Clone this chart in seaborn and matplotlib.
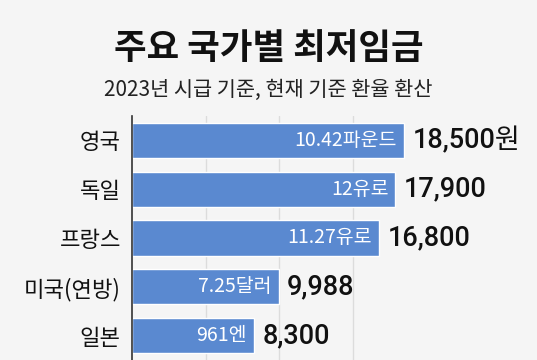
import pandas as pd
import matplotlib.pyplot as plt
import seaborn as sns

# 2023 hourly minimum wage, converted to KRW
countries = ['영국', '독일', '프랑스', '미국(연방)', '일본']
wage_krw = [18500, 17900, 16800, 9988, 8300]
local_labels = ['10.42파운드', '12유로', '11.27유로', '7.25달러', '961엔']
krw_labels = ['18,500원', '17,900', '16,800', '9,988', '8,300']

df = pd.DataFrame({'country': countries, 'krw': wage_krw})

sns.set_theme(style='white')
plt.rcParams['font.family'] = ['Noto Sans CJK KR', 'DejaVu Sans']

bg = '#f5f5f5'
bar_color = '#5a89d0'

fig = plt.figure(figsize=(5.37, 3.6), dpi=100, facecolor=bg)
ax = fig.add_axes([0.2458, 0.0, 0.534, 0.678])
ax.set_facecolor(bg)

sns.barplot(data=df, x='krw', y='country', color=bar_color, width=0.72,
            saturation=1, ax=ax, zorder=2)

ax.set_xlim(0, 19500)
ax.set_ylim(4.5, -0.5)
ax.set_xticks([5000, 10000, 15000])
ax.xaxis.grid(True, color='#dcdcdc', linewidth=1, zorder=0)
ax.tick_params(axis='x', length=0, labelbottom=False)
ax.tick_params(axis='y', length=0, labelsize=16, pad=8, colors='#111111')
ax.set_xlabel('')
ax.set_ylabel('')
for s in ['top', 'right', 'bottom']:
    ax.spines[s].set_visible(False)
ax.spines['left'].set_color('#333333')
ax.spines['left'].set_linewidth(1.2)
ax.spines['left'].set_zorder(3)

for i, (v, inner, outer) in enumerate(zip(wage_krw, local_labels, krw_labels)):
    ax.annotate(inner, (v, i), xytext=(-5, 0), textcoords='offset points',
                ha='right', va='center', color='white', fontsize=14, zorder=4)
    ax.annotate(outer, (v, i), xytext=(6, 0), textcoords='offset points',
                ha='left', va='center', color='#111111', fontsize=19.5,
                family=['Roboto', 'Noto Sans CJK KR'], fontweight='medium',
                annotation_clip=False, zorder=4)

fig.text(0.5, 0.865, '주요 국가별 최저임금', ha='center', va='center',
         fontsize=25.5, fontweight='bold', color='#111111')
fig.text(0.5, 0.75, '2023년 시급 기준, 현재 기준 환율 환산', ha='center', va='center',
         fontsize=15, color='#222222')

fig.savefig('out.png', dpi=100, facecolor=bg)
